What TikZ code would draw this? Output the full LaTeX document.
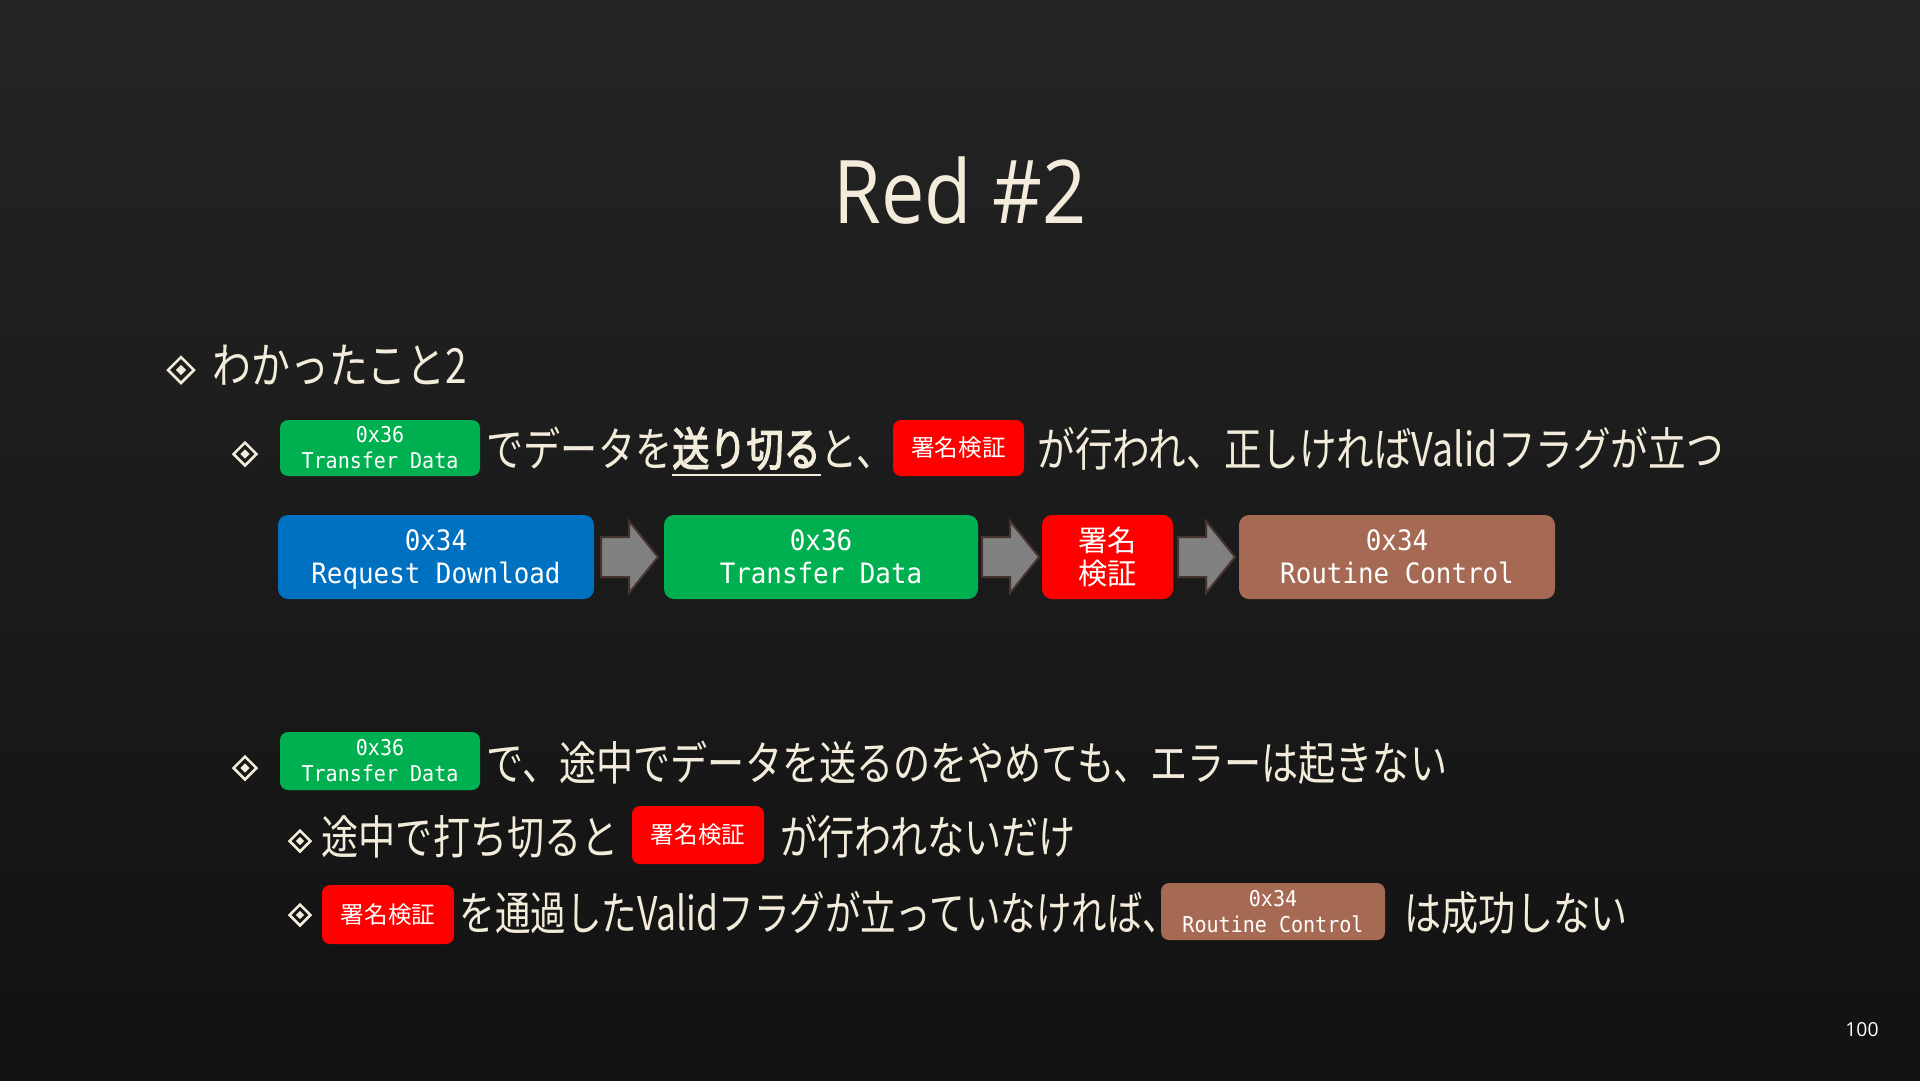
\documentclass[tikz,border=0pt]{standalone}
\usepackage{fontspec}
\usetikzlibrary{shapes.geometric,calc}
\setmainfont{Open Sans}
\newfontfamily\jp[FakeStretch=0.8]{Noto Sans CJK JP}
\newfontfamily\jpn[FakeStretch=0.765]{Noto Sans CJK JP}
\newfontfamily\jpw[FakeStretch=0.81]{Noto Sans CJK JP}
\newfontfamily\jpb[FakeStretch=0.8,FakeBold=2.5]{Noto Sans CJK JP}
\newfontfamily\jpbox{Noto Sans CJK JP}
\newfontfamily\monof[FakeStretch=0.92]{DejaVu Sans Mono}
\newfontfamily\titlef[FakeStretch=0.88]{Open Sans}
\definecolor{cream}{RGB}{243,236,218}
\definecolor{cblue}{RGB}{0,112,192}
\definecolor{cgreen}{RGB}{0,176,80}
\definecolor{cred}{RGB}{255,0,0}
\definecolor{cbrown}{RGB}{166,106,84}
\definecolor{bgtop}{RGB}{36,36,36}
\definecolor{bgbot}{RGB}{18,18,18}
\definecolor{arrfill}{RGB}{128,128,128}
\definecolor{arredge}{RGB}{72,52,46}
\tikzset{
  txtone/.style={anchor=base west, inner sep=0, text=cream, font=\jp\fontsize{13.8}{16}\selectfont},
  txttwo/.style={anchor=base west, inner sep=0, text=cream, font=\jp\fontsize{13.2}{16}\selectfont},
  tagbox/.style={rounded corners=0.8mm, inner sep=0, text=white, align=center},
  monosmall/.style={tagbox, font=\monof\fontsize{6.2}{7.4}\selectfont},
  monobig/.style={tagbox, rounded corners=1mm, font=\monof\fontsize{8}{9.4}\selectfont},
  jpsmall/.style={tagbox, font=\jpbox\fontsize{6.7}{8}\selectfont},
  jpbig/.style={tagbox, rounded corners=1mm, font=\jpbox\fontsize{8.3}{9.4}\selectfont},
  bulout/.style={diamond, draw=cream, line width=0.25mm, inner sep=0, minimum size=#1},
  bulin/.style={diamond, fill=cream, inner sep=0, minimum size=#1},
  blockarrow/.style={fill=arrfill, draw=arredge, line width=0.2mm, line join=miter}
}
\begin{document}
\begin{tikzpicture}[x=0.1mm,y=-0.1mm]
\useasboundingbox (0,0) rectangle (1920,1080);
\shade[top color=bgtop, bottom color=bgbot] (0,0) rectangle (1920,1080);

% title
\node[anchor=base, inner sep=0, text=cream, font=\titlef\fontsize{25}{28}\selectfont] (title) at (960,223) {Red \#2};

% level 1
\node[bulout=2.7mm] (d1) at (181,370) {};
\node[bulin=1.1mm] (d1i) at (d1) {};
\node[txtone] (h1) at (212,383) {わかったこと2};

% level 2, line 1
\node[bulout=2.4mm] (d2) at (245,454) {};
\node[bulin=1.0mm] (d2i) at (d2) {};
\node[monosmall, fill=cgreen, minimum width=20mm, minimum height=5.6mm] (g1) at (380,448) {0x36\\Transfer Data};
\node[txttwo] (s1) at (486,466) {でデータを{\jpb\underline{送り切る}}と、};
\node[jpsmall, fill=cred, minimum width=13.1mm, minimum height=5.6mm] (r1) at (958.5,448) {署名検証};
\node[txttwo, font=\jpw\fontsize{13.2}{16}\selectfont] (s2) at (1037,466) {が行われ、正しければValidフラグが立つ};

% flow
\node[monobig, fill=cblue, minimum width=31.6mm, minimum height=8.4mm] (b1) at (436,557) {0x34\\Re\smash{q}uest Download};
\node[monobig, fill=cgreen, minimum width=31.4mm, minimum height=8.4mm] (b2) at (821,557) {0x36\\Transfer Data};
\node[jpbig, fill=cred, minimum width=13.1mm, minimum height=8.4mm] (b3) at (1107.5,557) {署名\\検証};
\node[monobig, fill=cbrown, minimum width=31.6mm, minimum height=8.4mm] (b4) at (1397,557) {0x34\\Routine Control};

\coordinate (m1) at ($(b1.east)!0.5!(b2.west)$);
\coordinate (m2) at ($(b2.east)!0.5!(b3.west)$);
\coordinate (m3) at ($(b3.east)!0.5!(b4.west)$);
\foreach \m in {m1,m2,m3}{
  \draw[blockarrow, shift={(\m)}] (-28,-20) -- (0,-20) -- (0,-36) -- (29,0) -- (0,36) -- (0,20) -- (-28,20) -- cycle;
}

% level 2, line 2
\node[bulout=2.4mm] (d3) at (245,768) {};
\node[bulin=1.0mm] (d3i) at (d3) {};
\node[monosmall, fill=cgreen, minimum width=20mm, minimum height=5.8mm] (g2) at (380,761) {0x36\\Transfer Data};
\node[txttwo] (s3) at (486,780) {で、途中でデータを送るのをやめても、エラーは起きない};

% level 3, line 1
\node[bulout=2.2mm] (d4) at (300,841) {};
\node[bulin=0.9mm] (d4i) at (d4) {};
\node[txttwo] (s4) at (321,854) {途中で打ち切ると};
\node[jpsmall, fill=cred, minimum width=13.2mm, minimum height=5.8mm] (r2) at (698,835) {署名検証};
\node[txttwo] (s5) at (780,854) {が行われないだけ};

% level 3, line 2
\node[bulout=2.2mm] (d5) at (300,915) {};
\node[bulin=0.9mm] (d5i) at (d5) {};
\node[jpsmall, fill=cred, minimum width=13.2mm, minimum height=5.9mm] (r3) at (388,914.5) {署名検証};
\node[txttwo, font=\jpn\fontsize{13.2}{16}\selectfont] (s6) at (459,930) {を通過したValidフラグが立っていなければ、};
\node[monosmall, fill=cbrown, minimum width=22.4mm, minimum height=5.7mm] (c1) at (1273,911.5) {0x34\\Routine Control};
\node[txttwo] (s7) at (1404,930) {は成功しない};

% page number
\node[anchor=base, inner sep=0, text=white, font=\fontsize{5.5}{6}\selectfont] (pg) at (1862,1036) {100};
\end{tikzpicture}
\end{document}
